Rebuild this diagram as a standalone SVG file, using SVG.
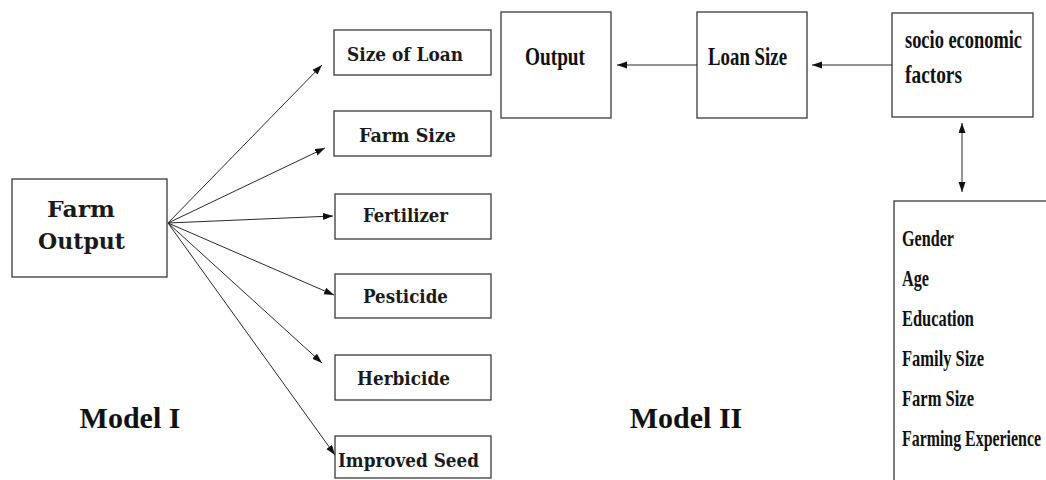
<svg xmlns="http://www.w3.org/2000/svg" width="1046" height="480" viewBox="0 0 1046 480">
<style>
.box{fill:#fff;stroke:#3a3a3a;stroke-width:1.3}
.slab{font-family:"DejaVu Serif",serif;font-weight:bold;fill:#1a1a1a}
.tnr{font-family:"Liberation Serif","Times New Roman",serif;font-weight:bold;fill:#111}
.ln{stroke:#2a2a2a;stroke-width:1;fill:none}
</style>
<defs>
<marker id="ah" markerUnits="userSpaceOnUse" markerWidth="11" markerHeight="8" refX="10" refY="3.5" orient="auto-start-reverse">
<path d="M0,0 L10,3.5 L0,7 z" fill="#111"/>
</marker>
</defs>
<rect width="1046" height="480" fill="#fff"/>

<g id="farm-output">
<rect class="box" x="12" y="179" width="155" height="98"/>
<text class="slab" x="47" y="217" font-size="23" textLength="68" lengthAdjust="spacingAndGlyphs">Farm</text>
<text class="slab" x="38" y="249" font-size="23" textLength="87" lengthAdjust="spacingAndGlyphs">Output</text>
</g>
<g id="size-of-loan">
<rect class="box" x="334" y="30" width="157" height="45"/>
<text class="slab" x="347" y="61" font-size="19" textLength="116" lengthAdjust="spacingAndGlyphs">Size of Loan</text>
</g>
<g id="farm-size">
<rect class="box" x="334" y="111" width="157" height="45"/>
<text class="slab" x="359" y="142" font-size="19" textLength="97" lengthAdjust="spacingAndGlyphs">Farm Size</text>
</g>
<g id="fertilizer">
<rect class="box" x="335" y="194" width="156" height="45"/>
<text class="slab" x="363" y="222" font-size="19" textLength="85" lengthAdjust="spacingAndGlyphs">Fertilizer</text>
</g>
<g id="pesticide">
<rect class="box" x="335" y="274" width="156" height="44"/>
<text class="slab" x="363" y="303" font-size="19" textLength="85" lengthAdjust="spacingAndGlyphs">Pesticide</text>
</g>
<g id="herbicide">
<rect class="box" x="335" y="355" width="156" height="45"/>
<text class="slab" x="357" y="385" font-size="19" textLength="93" lengthAdjust="spacingAndGlyphs">Herbicide</text>
</g>
<g id="improved-seed">
<rect class="box" x="335" y="436" width="156" height="42"/>
<text class="slab" x="338" y="467" font-size="19" textLength="141" lengthAdjust="spacingAndGlyphs">Improved Seed</text>
</g>

<g id="output">
<rect class="box" x="501" y="12" width="110" height="106"/>
<text class="tnr" x="525" y="65" font-size="26" textLength="60" lengthAdjust="spacingAndGlyphs">Output</text>
</g>
<g id="loan-size">
<rect class="box" x="697" y="12" width="110" height="106"/>
<text class="tnr" x="708" y="65" font-size="26" textLength="79" lengthAdjust="spacingAndGlyphs">Loan Size</text>
</g>
<g id="socio-economic">
<rect class="box" x="892" y="13" width="141" height="104"/>
<text class="tnr" x="905" y="48" font-size="26" textLength="117" lengthAdjust="spacingAndGlyphs">socio economic</text>
<text class="tnr" x="905" y="83" font-size="26" textLength="57" lengthAdjust="spacingAndGlyphs">factors</text>
</g>
<g id="factors-list">
<rect class="box" x="894" y="201" width="170" height="300"/>
<text class="tnr" x="902" y="246" font-size="24" textLength="52" lengthAdjust="spacingAndGlyphs">Gender</text>
<text class="tnr" x="902" y="286" font-size="24" textLength="27" lengthAdjust="spacingAndGlyphs">Age</text>
<text class="tnr" x="902" y="326" font-size="24" textLength="72" lengthAdjust="spacingAndGlyphs">Education</text>
<text class="tnr" x="902" y="366" font-size="24" textLength="82" lengthAdjust="spacingAndGlyphs">Family Size</text>
<text class="tnr" x="902" y="406" font-size="24" textLength="72" lengthAdjust="spacingAndGlyphs">Farm Size</text>
<text class="tnr" x="902" y="446" font-size="24" textLength="139" lengthAdjust="spacingAndGlyphs">Farming Experience</text>
</g>

<g id="labels">
<text class="tnr" x="130" y="428" font-size="30" text-anchor="middle">Model I</text>
<text class="tnr" x="686" y="428" font-size="30" text-anchor="middle">Model II</text>
</g>

<g id="connectors">
<line class="ln" x1="168" y1="223" x2="322" y2="65" marker-end="url(#ah)"/>
<line class="ln" x1="168" y1="223" x2="325" y2="148" marker-end="url(#ah)"/>
<line class="ln" x1="168" y1="223" x2="333" y2="216" marker-end="url(#ah)"/>
<line class="ln" x1="168" y1="223" x2="334" y2="295" marker-end="url(#ah)"/>
<line class="ln" x1="168" y1="223" x2="322" y2="363" marker-end="url(#ah)"/>
<line class="ln" x1="168" y1="223" x2="335" y2="455" marker-end="url(#ah)"/>
<line class="ln" x1="697" y1="65" x2="617" y2="65" marker-end="url(#ah)"/>
<line class="ln" x1="892" y1="65" x2="812" y2="65" marker-end="url(#ah)"/>
<line class="ln" x1="962" y1="123" x2="962" y2="192" marker-start="url(#ah)" marker-end="url(#ah)"/>
</g>
</svg>
